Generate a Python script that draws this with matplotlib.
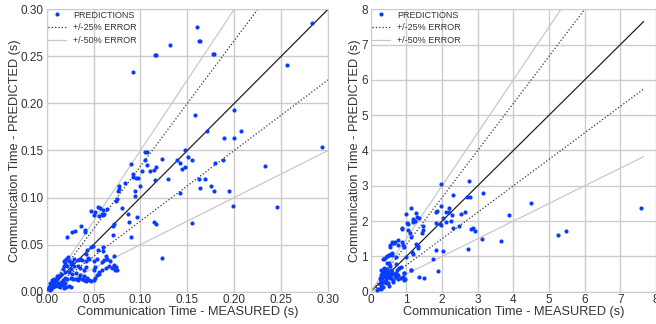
import numpy as np
import matplotlib
matplotlib.use("Agg")
import matplotlib.pyplot as plt

plt.rcParams['font.family'] = ['Liberation Sans', 'DejaVu Sans']

# ---- left panel: predictions vs measurements (s) ----
meas_left = [
    0.283, 0.160, 0.162, 0.164, 0.132, 0.115, 0.117, 0.177, 0.178, 0.092,
    0.256, 0.200, 0.158, 0.207, 0.171, 0.189, 0.200, 0.294, 0.147, 0.105,
    0.107, 0.151, 0.155, 0.188, 0.139, 0.105, 0.123, 0.142, 0.180, 0.107,
    0.090, 0.233, 0.148, 0.144, 0.117, 0.114, 0.110, 0.102, 0.092, 0.092,
    0.095, 0.097, 0.116, 0.129, 0.162, 0.169, 0.077, 0.077, 0.083, 0.099,
    0.076, 0.142, 0.094, 0.094, 0.164, 0.175, 0.178, 0.194, 0.074, 0.075,
    0.080, 0.055, 0.057, 0.064, 0.060, 0.047, 0.050, 0.052, 0.059, 0.061,
    0.056, 0.060, 0.096, 0.087, 0.088, 0.199, 0.246, 0.155, 0.114, 0.117,
    0.071, 0.072, 0.071, 0.090, 0.037, 0.041, 0.041, 0.027, 0.030, 0.022,
    0.047, 0.123, 0.075, 0.074, 0.072, 0.063, 0.072, 0.060, 0.060, 0.055,
    0.043, 0.042, 0.049, 0.044,
    0.021, 0.018, 0.020, 0.018, 0.017, 0.019, 0.015, 0.013, 0.011, 0.010,
    0.008, 0.006, 0.004, 0.0025, 0.0015, 0.007, 0.0096, 0.012, 0.014, 0.017,
    0.018, 0.021, 0.024, 0.026, 0.017, 0.019, 0.022, 0.0255, 0.028, 0.031,
    0.033, 0.034, 0.038, 0.040, 0.0415, 0.043, 0.045, 0.047, 0.050, 0.052,
    0.054, 0.056, 0.050, 0.052, 0.056, 0.059, 0.063, 0.066, 0.070, 0.072,
    0.073, 0.040, 0.0415, 0.036, 0.033, 0.029, 0.0255, 0.024, 0.027, 0.031,
    0.036, 0.040, 0.029, 0.033, 0.036, 0.038, 0.0415, 0.045, 0.050, 0.054,
    0.059, 0.061, 0.0645, 0.068, 0.027, 0.0255, 0.022, 0.024, 0.023, 0.008,
    0.006, 0.011, 0.0035, 0.005, 0.009, 0.012, 0.003, 0.016, 0.014, 0.020,
]
pred_left = [
    0.285, 0.281, 0.266, 0.266, 0.262, 0.251, 0.251, 0.252, 0.252, 0.233,
    0.241, 0.193, 0.188, 0.171, 0.171, 0.163, 0.163, 0.154, 0.151, 0.148,
    0.148, 0.143, 0.140, 0.140, 0.140, 0.140, 0.141, 0.137, 0.137, 0.135,
    0.136, 0.134, 0.133, 0.130, 0.133, 0.129, 0.128, 0.128, 0.125, 0.122,
    0.121, 0.121, 0.119, 0.120, 0.120, 0.120, 0.112, 0.109, 0.115, 0.112,
    0.107, 0.105, 0.107, 0.102, 0.110, 0.112, 0.107, 0.107, 0.096, 0.099,
    0.089, 0.090, 0.089, 0.088, 0.087, 0.086, 0.082, 0.085, 0.083, 0.083,
    0.080, 0.081, 0.079, 0.083, 0.074, 0.091, 0.090, 0.073, 0.074, 0.072,
    0.070, 0.072, 0.060, 0.058, 0.070, 0.066, 0.063, 0.063, 0.064, 0.058,
    0.048, 0.036, 0.023, 0.026, 0.028, 0.038, 0.038, 0.047, 0.043, 0.044,
    0.044, 0.040, 0.049, 0.036,
    0.035, 0.033, 0.030, 0.027, 0.024, 0.021, 0.019, 0.017, 0.014, 0.012,
    0.010, 0.008, 0.006, 0.0046, 0.003, 0.005, 0.007, 0.009, 0.005, 0.007,
    0.004, 0.005, 0.0064, 0.005, 0.012, 0.015, 0.013, 0.015, 0.013, 0.014,
    0.012, 0.015, 0.014, 0.012, 0.011, 0.015, 0.012, 0.011, 0.012, 0.015,
    0.018, 0.019, 0.023, 0.026, 0.021, 0.023, 0.025, 0.027, 0.025, 0.027,
    0.023, 0.023, 0.026, 0.025, 0.027, 0.027, 0.024, 0.021, 0.019, 0.020,
    0.018, 0.017, 0.035, 0.034, 0.035, 0.034, 0.033, 0.035, 0.033, 0.035,
    0.032, 0.034, 0.035, 0.033, 0.032, 0.029, 0.027, 0.033, 0.037, 0.014,
    0.012, 0.017, 0.009, 0.003, 0.006, 0.006, 0.002, 0.010, 0.008, 0.009,
]

# ---- right panel ----
meas_right = [
    7.57, 4.50, 5.25, 5.48, 3.88, 3.14, 3.13, 3.65, 2.76, 1.98,
    2.70, 2.78, 2.31, 2.64, 2.54, 2.19, 2.20, 2.10, 2.28, 2.02,
    2.25, 2.12, 1.85, 1.82, 1.97, 1.93, 1.98, 1.82, 2.30, 2.47,
    2.80, 2.88, 2.93, 2.72, 1.84, 2.03, 1.76, 1.88, 1.35, 1.50,
    1.13, 0.98, 0.93, 0.96, 0.92, 1.10, 1.13, 1.05, 1.03, 1.05,
    1.13, 1.00, 1.20, 1.20, 1.28, 1.30, 1.35, 1.25, 1.47, 1.48,
    1.43, 1.17, 1.20, 1.28, 1.33, 1.33, 0.87, 0.77, 0.88, 0.91,
    0.60, 0.65, 0.55, 0.55, 0.60, 0.60, 0.70, 0.50, 0.45, 0.35,
    0.50, 0.70, 0.80,
    0.30, 0.35, 0.39, 0.44, 0.49, 0.53, 0.58, 0.63, 0.67, 0.72,
    0.77, 0.30, 0.35, 0.39, 0.44, 0.49, 0.53, 0.58, 0.30, 0.35,
    0.39, 0.44, 0.30, 0.35, 0.49, 0.63, 0.77, 0.86, 0.91, 0.93,
    0.25, 0.21, 0.17, 0.28, 0.40, 0.46, 0.55, 0.60, 0.32, 0.26,
    0.50, 0.62, 0.70, 0.75, 0.45, 0.38, 0.55,
    0.47, 0.37, 0.44, 0.50, 0.58, 0.63, 0.67, 0.77, 0.89, 1.14,
    0.86, 0.93, 0.30, 0.28, 0.42, 0.33,
]
pred_right = [
    2.38, 2.52, 1.61, 1.71, 2.17, 2.80, 1.48, 1.45, 3.14, 3.04,
    2.67, 2.67, 2.75, 2.25, 2.21, 2.36, 2.27, 2.27, 2.18, 2.10,
    1.99, 1.97, 2.30, 2.27, 2.44, 1.92, 1.90, 1.96, 1.80, 1.86,
    1.78, 1.80, 1.73, 1.20, 1.18, 1.16, 0.93, 0.58, 0.42, 0.38,
    0.62, 0.98, 0.52, 0.36, 1.28, 1.67, 1.55, 1.76, 1.95, 1.92,
    2.37, 2.20, 2.05, 1.98, 2.24, 2.12, 2.08, 2.00, 1.87, 1.75,
    1.66, 1.12, 1.08, 1.35, 1.29, 1.24, 1.80, 1.33, 1.40, 1.33,
    1.42, 1.38, 1.32, 1.28, 1.10, 1.04, 0.97, 1.05, 1.02, 0.93,
    0.80, 0.78, 0.68,
    0.61, 0.57, 0.61, 0.54, 0.57, 0.52, 0.61, 0.50, 0.44, 0.42,
    0.47, 0.47, 0.42, 0.44, 0.38, 0.42, 0.40, 0.38, 0.33, 0.28,
    0.30, 0.24, 0.19, 0.14, 0.24, 0.33, 0.35, 0.38, 0.42, 0.33,
    0.24, 0.09, 0.05, 0.10, 0.52, 0.48, 0.47, 0.55, 0.53, 0.40,
    0.15, 0.28, 0.53, 0.62, 0.65, 0.68, 0.72,
    0.80, 0.92, 0.99, 1.04, 1.08, 1.37, 1.42, 1.46, 1.79, 0.61,
    0.71, 0.54, 0.08, 0.25, 0.30, 0.45,
]

left_ticks = [0.00, 0.05, 0.10, 0.15, 0.20, 0.25, 0.30]
right_ticks = [0, 1, 2, 3, 4, 5, 6, 7, 8]

GRID = '#cccccc'
BLUE = '#0a3cff'
TEXT = '#333333'


def draw_panel(ax, meas, pred, lim, line_end, ticks, fmt):
    meas = np.asarray(meas)
    pred = np.asarray(pred)
    xs = np.array([0.0, line_end])
    ax.plot(meas, pred, 'o', ms=3.0, color=BLUE, mec='none', label='PREDICTIONS', zorder=3)
    ax.plot(xs, xs, '-', color='#222222', lw=0.9, zorder=2)
    ax.plot(xs, xs / 0.75, ':', color='#333333', lw=0.9, label='+/-25% ERROR', zorder=2)
    ax.plot(xs, xs * 0.75, ':', color='#333333', lw=0.9, zorder=2)
    ax.plot(xs, xs * 1.5, '-', color='#c8c8c8', lw=0.9, label='+/-50% ERROR', zorder=2)
    ax.plot(xs, xs * 0.5, '-', color='#c8c8c8', lw=0.9, zorder=2)
    ax.set_xlim(0, lim)
    ax.set_ylim(0, lim)
    ax.set_xticks(ticks)
    ax.set_yticks(ticks)
    ax.set_xticklabels([fmt.format(t) for t in ticks], fontsize=8.5, color=TEXT)
    ax.set_yticklabels([fmt.format(t) for t in ticks], fontsize=8.5, color=TEXT)
    ax.tick_params(length=0, pad=2)
    ax.grid(True, color=GRID, lw=1.0)
    ax.set_axisbelow(True)
    for s in ax.spines.values():
        s.set_color(GRID)
        s.set_linewidth(0.8)
    ax.set_xlabel('Communication Time - MEASURED (s)', fontsize=9.2, color=TEXT, labelpad=0)
    ax.set_ylabel('Communication Time - PREDICTED (s)', fontsize=9.2, color=TEXT, labelpad=0)
    leg = ax.legend(loc='upper left', frameon=False, fontsize=6.5, numpoints=1,
                    handlelength=2.0, handletextpad=0.8, borderaxespad=0.0,
                    borderpad=0.15, labelspacing=0.4,
                    bbox_to_anchor=(0.0, 1.0))
    for t in leg.get_texts():
        t.set_color(TEXT)


fig = plt.figure(figsize=(6.56, 3.24), dpi=100)
ax1 = fig.add_axes([0.0712, 0.0997, 0.4288, 0.8716])
ax2 = fig.add_axes([0.5651, 0.0997, 0.4349, 0.8716])

draw_panel(ax1, meas_left, pred_left, 0.30, 0.30, left_ticks, '{:.2f}')
draw_panel(ax2, meas_right, pred_right, 8, 7.65, right_ticks, '{:g}')

fig.savefig('out.png', dpi=100)
